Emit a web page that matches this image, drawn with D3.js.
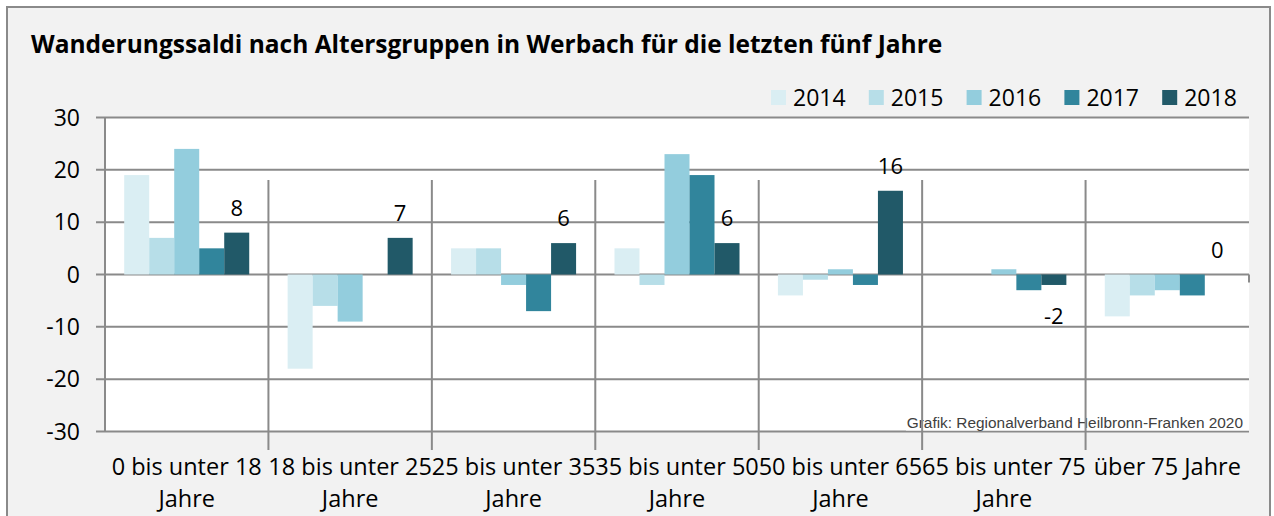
<!DOCTYPE html>
<html>
<head>
<meta charset="utf-8">
<script src="https://cdn.jsdelivr.net/npm/d3@7.9.0/dist/d3.min.js"></script>
<style>
  html, body { margin: 0; padding: 0; background: #fff; }
  svg { display: block; }
  text { font-family: "Open Sans", sans-serif; fill: #000; }
</style>
</head>
<body>
<svg id="chart" width="1274" height="516"></svg>
<script>
// Wanderungssaldi nach Altersgruppen, Werbach 2014-2018
const ageGroups = [
    '0 bis unter 18 Jahre', '18 bis unter 25 Jahre', '25 bis unter 35 Jahre',
    '35 bis unter 50 Jahre', '50 bis unter 65 Jahre', '65 bis unter 75 Jahre', 'über 75 Jahre'
];
const years = ['2014', '2015', '2016', '2017', '2018'];
const saldo2014 = [19, -18, 5, 5, -4, 0, -8];
const saldo2015 = [7, -6, 5, -2, -1, 0, -4];
const saldo2016 = [24, -9, -2, 23, 1, 1, -3];
const saldo2017 = [5, 0, -7, 19, -2, -3, -4];
const saldo2018 = [8, 7, 6, 6, 16, -2, 0];
const yTicks = [-30, -20, -10, 0, 10, 20, 30];

const seriesValues = [saldo2014, saldo2015, saldo2016, saldo2017, saldo2018];
const colors = ['#DAEEF3', '#B7DEE8', '#93CDDD', '#31859C', '#215968'];
const gridColor = '#8a8a8a';

const svg = d3.select('#chart');

// chart background + frame
svg.append('rect')
    .attr('x', 7).attr('y', 7).attr('width', 1263).attr('height', 520)
    .attr('fill', '#f2f2f2').attr('stroke', gridColor).attr('stroke-width', 2);

svg.append('text')
    .attr('x', 31).attr('y', 53)
    .attr('font-size', 24.5).attr('font-weight', 'bold')
    .text('Wanderungssaldi nach Altersgruppen in Werbach für die letzten fünf Jahre');

const x = d3.scaleBand().domain(ageGroups).range([105, 1249]).padding(0);
const xInner = d3.scaleBand().domain(years).range([0, x.bandwidth()]).paddingInner(0).paddingOuter(0.768);
const y = d3.scaleLinear().domain([-30, 30]).range([431.5, 117.5]);

// plot area
svg.append('rect')
    .attr('x', x.range()[0]).attr('y', y(30))
    .attr('width', x.range()[1] - x.range()[0]).attr('height', y(-30) - y(30))
    .attr('fill', '#fff');

// horizontal gridlines with tick marks on the left
svg.append('g').selectAll('line').data(yTicks).join('line')
    .attr('x1', 96).attr('x2', x.range()[1])
    .attr('y1', d => y(d)).attr('y2', d => y(d))
    .attr('stroke', gridColor).attr('stroke-width', 2);

svg.append('line')
    .attr('x1', x.range()[0]).attr('x2', x.range()[0])
    .attr('y1', y(30)).attr('y2', y(-30))
    .attr('stroke', gridColor).attr('stroke-width', 2);

svg.append('g').selectAll('text').data(yTicks).join('text')
    .attr('x', 80).attr('y', d => y(d) + 8)
    .attr('text-anchor', 'end').attr('font-size', 23)
    .text(d => d);

// source note sits on a white box, dividers run over it
const note = svg.append('g');
note.append('rect')
    .attr('x', 906).attr('y', 413).attr('width', x.range()[1] - 906).attr('height', y(-30) - 413 - 1)
    .attr('fill', '#fff');
note.append('text')
    .attr('x', 1243).attr('y', 427.5)
    .attr('text-anchor', 'end')
    .style('font-family', '"Liberation Sans", Arial, sans-serif')
    .style('fill', '#404040')
    .attr('font-size', 15.4)
    .text('Grafik: Regionalverband Heilbronn-Franken 2020');

// bars
const groups = svg.append('g').selectAll('g').data(ageGroups).join('g')
    .attr('transform', d => `translate(${x(d)},0)`);

groups.selectAll('rect')
    .data((d, i) => years.map((yr, s) => ({ year: yr, value: seriesValues[s][i], s })))
    .join('rect')
    .attr('x', d => xInner(d.year))
    .attr('width', xInner.bandwidth())
    .attr('y', d => y(Math.max(0, d.value)))
    .attr('height', d => Math.abs(y(d.value) - y(0)))
    .attr('fill', d => colors[d.s]);

// value labels for 2018 only
svg.append('g').selectAll('text').data(saldo2018).join('text')
    .attr('x', (d, i) => x(ageGroups[i]) + xInner('2018') + xInner.bandwidth() / 2)
    .attr('y', d => d < 0 ? y(d) + 39.5 : y(d) - 17)
    .attr('text-anchor', 'middle').attr('font-size', 22)
    .text(d => d);

// category dividers + small tick below the zero line at the right end
const bounds = d3.range(1, ageGroups.length).map(i => x(ageGroups[i]));
svg.append('g').selectAll('line').data(bounds).join('line')
    .attr('x1', d => d).attr('x2', d => d)
    .attr('y1', 180).attr('y2', 450)
    .attr('stroke', gridColor).attr('stroke-width', 2);

svg.append('line')
    .attr('x1', x.range()[1]).attr('x2', x.range()[1])
    .attr('y1', y(0)).attr('y2', y(0) + 8)
    .attr('stroke', gridColor).attr('stroke-width', 2);

// category labels, wrapped before "Jahre" when long
const xLabels = svg.append('g').selectAll('text').data(ageGroups).join('text')
    .attr('text-anchor', 'middle').attr('font-size', 23.5)
    .attr('x', d => x(d) + x.bandwidth() / 2);

xLabels.each(function (d) {
    const lines = d.includes('bis unter') ? [d.slice(0, d.lastIndexOf(' ')), 'Jahre'] : [d];
    d3.select(this).selectAll('tspan').data(lines).join('tspan')
        .attr('x', x(d) + x.bandwidth() / 2)
        .attr('y', (l, j) => 475 + j * 32)
        .text(l => l);
});

// legend
const legend = svg.append('g').attr('transform', 'translate(771,90)');
const items = legend.selectAll('g').data(years).join('g')
    .attr('transform', (d, i) => `translate(${i * 97.8},0)`);
items.append('rect').attr('width', 15).attr('height', 15).attr('fill', (d, i) => colors[i]);
items.append('text').attr('x', 22).attr('y', 15.5).attr('font-size', 23).text(d => d);
</script>
</body>
</html>
